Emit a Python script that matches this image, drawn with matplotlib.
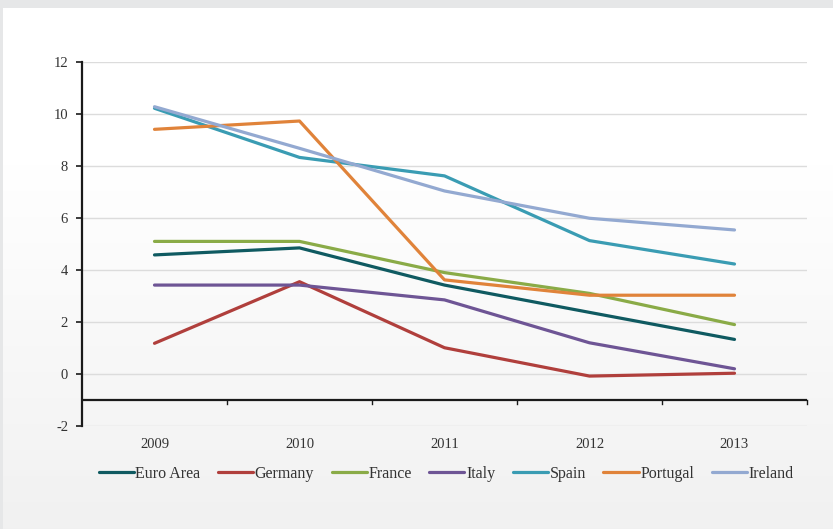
import numpy as np
import matplotlib
matplotlib.use("Agg")
import matplotlib.pyplot as plt

# Valores por ano
anos = ["2009", "2010", "2011", "2012", "2013"]
euro_area = [4.58, 4.85, 3.42, 2.37, 1.33]
germany = [1.18, 3.55, 1.01, -0.08, 0.03]
france = [5.10, 5.10, 3.90, 3.10, 1.90]
italy = [3.42, 3.42, 2.85, 1.20, 0.20]
spain = [10.22, 8.33, 7.62, 5.13, 4.23]
portugal = [9.41, 9.73, 3.62, 3.03, 3.03]
ireland = [10.28, 8.68, 7.04, 5.99, 5.54]

series = [
    ("Euro Area", euro_area, "#0f5a61"),
    ("Germany", germany, "#b03f3c"),
    ("France", france, "#8aab47"),
    ("Italy", italy, "#6e5595"),
    ("Spain", spain, "#3a9cb3"),
    ("Portugal", portugal, "#e0833a"),
    ("Ireland", ireland, "#93a9d1"),
]

plt.rcParams["font.family"] = ["Liberation Serif", "DejaVu Serif"]
plt.rcParams["axes.unicode_minus"] = False

W, H = 833, 529
fig = plt.figure(figsize=(W / 100, H / 100), dpi=100)
fig.patch.set_facecolor("#e6e7e8")

# fundo com degradê (branco em cima, cinza claro embaixo)
bg = fig.add_axes([3 / W, 0, 1 - 3 / W, 1 - 8 / H], zorder=-1)
grad = np.concatenate([np.ones(120), np.linspace(1.0, 0.945, 280)])[:, None]
bg.imshow(np.dstack([grad, grad, grad]), aspect="auto", extent=[0, 1, 0, 1],
          vmin=0, vmax=1)
bg.axis("off")

ax = fig.add_axes([82 / W, 1 - 426 / H, (807 - 82) / W, (426 - 62) / H])
ax.set_facecolor("none")

x = np.arange(len(anos))
for nome, valores, cor in series:
    ax.plot(x, valores, color=cor, lw=2.3, label=nome, solid_capstyle="round", zorder=3)

ax.set_xlim(-0.5, len(anos) - 0.5)
ax.set_ylim(-2, 12)
ax.set_yticks(range(-2, 13, 2))
ax.yaxis.grid(True, color="#dcdcdc", lw=1.0)
ax.set_axisbelow(True)

for lado in ["top", "right", "bottom"]:
    ax.spines[lado].set_visible(False)
ax.spines["left"].set_color("#1a1a1a")
ax.spines["left"].set_linewidth(1.6)
ax.tick_params(axis="y", length=4, width=1.2, color="#1a1a1a", labelsize=10.5,
               labelcolor="#333333", pad=6)

# eixo horizontal cruzando em -1, com marcas entre as categorias
ax.axhline(-1, color="#1a1a1a", lw=1.6, zorder=2)
for b in np.arange(0.5, len(anos), 1.0):
    ax.plot([b, b], [-1, -1.15], color="#1a1a1a", lw=1.0, clip_on=False)
ax.set_xticks([])

# rótulos dos anos abaixo da área do gráfico
for i, ano in enumerate(anos):
    ax.text(i, -2.7, ano, ha="center", va="center", fontsize=10.5, color="#333333")

fig.legend(loc="center", bbox_to_anchor=(446 / W, 1 - 474 / H), ncol=7,
           frameon=False, fontsize=11.5, handlelength=2.2, handletextpad=0.1,
           columnspacing=1.1, labelcolor="#333333")

fig.savefig("out.png", dpi=100)
